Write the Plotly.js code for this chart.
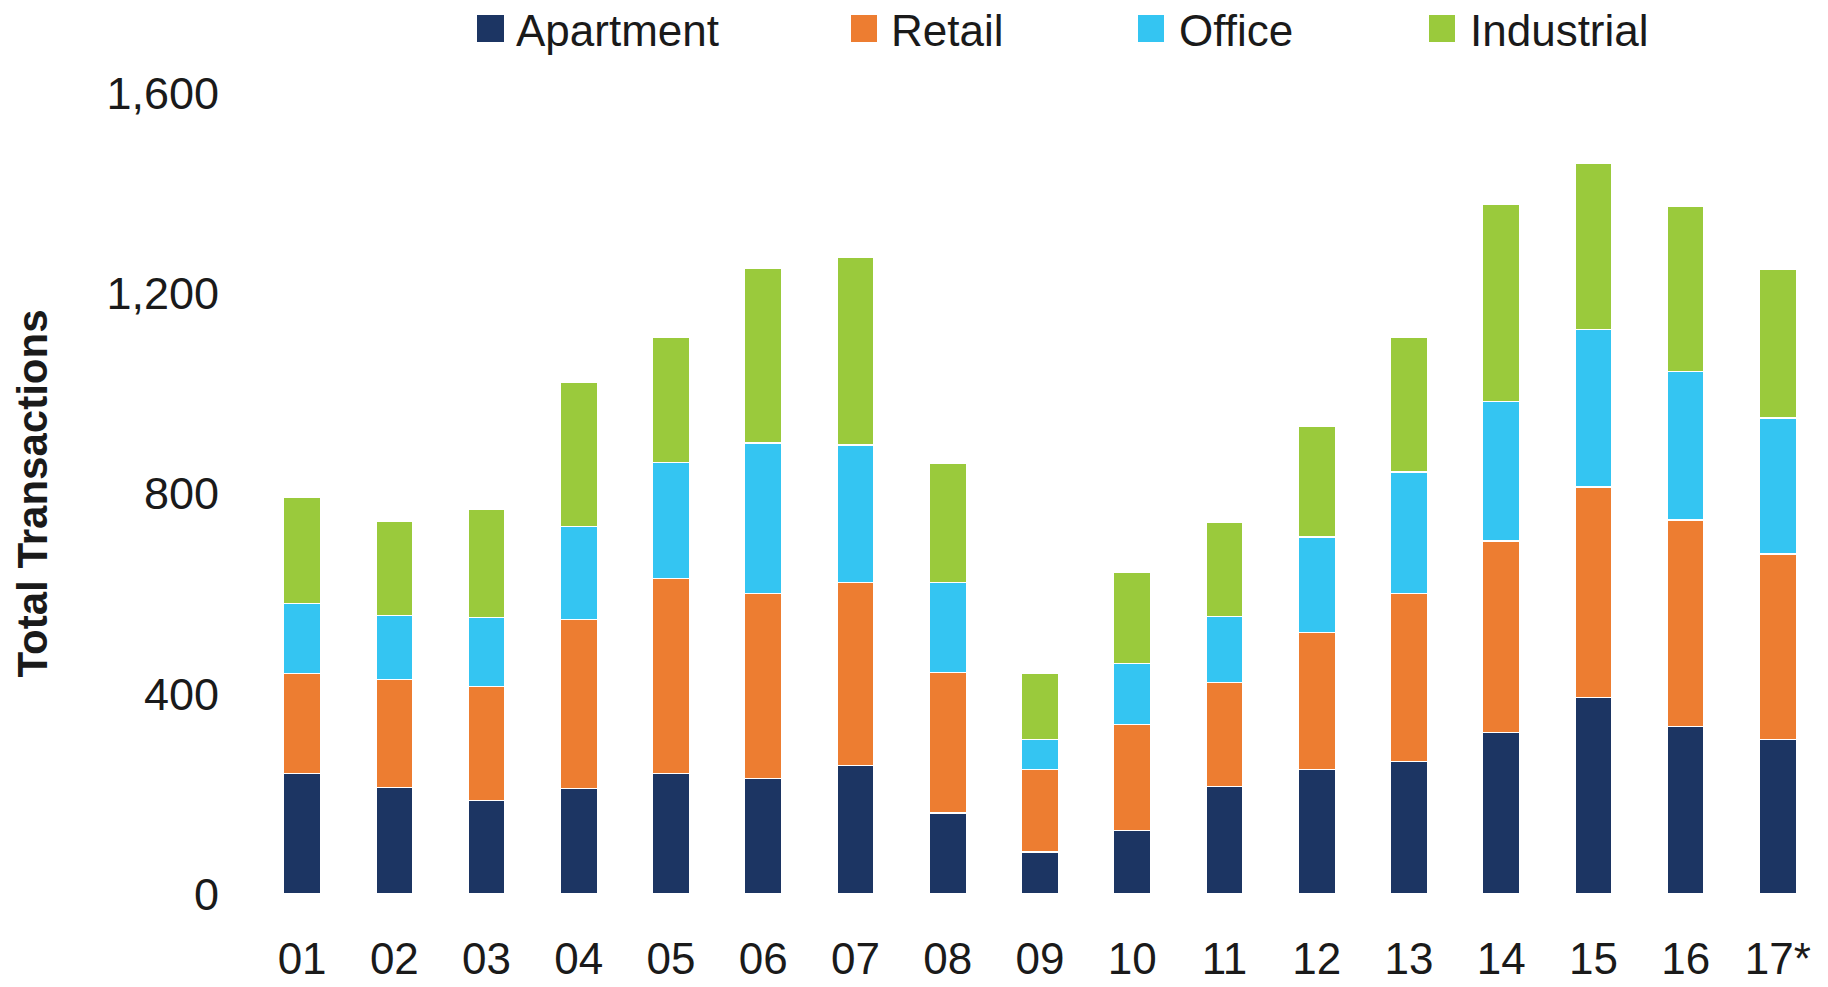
<!DOCTYPE html>
<html>
<head>
<meta charset="utf-8">
<script src="https://cdn.plot.ly/plotly-3.0.1.min.js"></script>
<style>html,body{margin:0;padding:0;background:#fff;}#chart{width:1828px;height:987px;}</style>
</head>
<body>
<div id="chart"></div>
<script>
const years = ["01","02","03","04","05","06","07","08","09","10","11","12","13","14","15","16","17*"];
const apartment = [240,213,187,210,240,230,257,162,84,127,215,248,265,323,392,335,309];
const retail    = [200,216,228,338,390,371,365,280,164,212,207,275,336,382,421,412,370];
const office    = [140,128,137,186,232,300,275,180,61,122,133,190,242,279,314,297,272];
const industrial= [212,188,216,288,249,348,374,239,131,182,187,222,268,394,333,329,296];
const seriesNames = ["Apartment","Retail","Office","Industrial"];
const seriesColors = ["#1c3563","#ed7d31","#34c5f2","#9aca3c"];
const seriesValues = [apartment, retail, office, industrial];
const yTicks = [0,400,800,1200,1600];

const W = 1828, H = 987;
const M = {l:256, r:4, t:93, b:93};
const pw = W - M.l - M.r, ph = H - M.t - M.b;
const px2x = p => (p - M.l) / pw;
const px2y = p => (H - M.b - p) / ph;

const traces = seriesNames.map((n,i) => ({
  type: 'bar', name: n, x: years, y: seriesValues[i],
  marker: {color: seriesColors[i], line: {color: '#ffffff', width: 1.2}},
  showlegend: false, hoverinfo: 'x+y+name'
}));

// custom legend (large square swatches)
const legendSquares = [[477,504],[851,877],[1138,1164],[1429,1455]];
const legendTextX = [515,890,1178,1469];
const shapes = [], annotations = [];
seriesNames.forEach((n,i) => {
  shapes.push({type:'rect', xref:'paper', yref:'paper',
    x0: px2x(legendSquares[i][0]), x1: px2x(legendSquares[i][1]),
    y0: px2y(42), y1: px2y(15), fillcolor: seriesColors[i], line:{width:0}});
  annotations.push({xref:'paper', yref:'paper', x: px2x(legendTextX[i]), y: px2y(30),
    xanchor:'left', yanchor:'middle', text: n, showarrow:false, borderpad:0,
    font:{family:'Liberation Sans, Arial, sans-serif', size:44, color:'#1a1a1a'}});
});

const layout = {
  width: W, height: H,
  margin: M,
  paper_bgcolor: '#ffffff', plot_bgcolor: '#ffffff',
  barmode: 'stack', bargap: 0.6,
  font: {family: 'Liberation Sans, Arial, sans-serif', color: '#1a1a1a', size: 45},
  xaxis: {type:'category', showgrid:false, zeroline:false, showline:false, ticks:'',
          ticklabelstandoff: 35, tickfont:{size:44, color:'#1a1a1a'}},
  yaxis: {range:[0,1600], tickvals: yTicks, tickformat: ',d', showgrid:false, zeroline:false,
          showline:false, ticks:'', ticklabelstandoff: 36, tickfont:{size:45, color:'#1a1a1a'},
          title: {text:'<b>Total Transactions</b>', standoff: 45,
                  font:{size:42, color:'#1a1a1a', family:'Liberation Sans, Arial, sans-serif'}},
          automargin:false},
  showlegend: false,
  shapes: shapes,
  annotations: annotations
};

Plotly.newPlot('chart', traces, layout, {displayModeBar:false, staticPlot:true});
</script>
</body>
</html>
